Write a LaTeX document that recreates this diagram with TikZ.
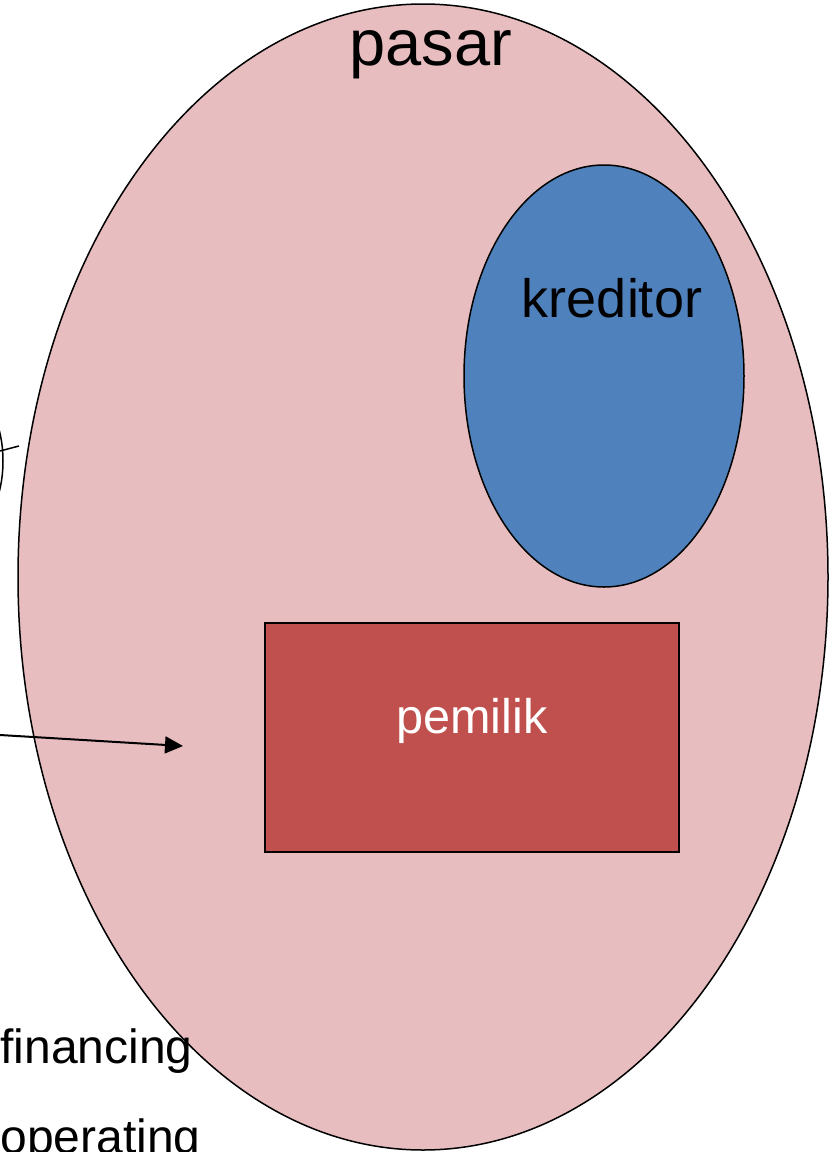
\documentclass[tikz,border=0pt]{standalone}
\usepackage{fontspec}
\setmainfont{Liberation Sans}
\usetikzlibrary{shapes.geometric,arrows.meta}
\definecolor{pasarpink}{RGB}{231,189,191}
\definecolor{kreditorblue}{RGB}{79,129,189}
\definecolor{pemilikred}{RGB}{192,80,77}
\tikzset{
  lbl/.style={anchor=base, inner sep=0pt},
  oval/.style={ellipse, draw=black, line width=0.75pt, inner sep=0pt}
}
\begin{document}
\begin{tikzpicture}[x=0.5pt, y=-0.5pt]
       \useasboundingbox (0,0) rectangle (840,1152);
       \clip (0,0) rectangle (840,1152);

       \draw (423,577) node[oval, fill=pasarpink, minimum width=405pt, minimum height=573pt](pasar){}
       (604,376) node[oval, fill=kreditorblue, minimum width=140pt, minimum height=211pt](kreditor){}
       (472,737.5) node[rectangle, draw=black, line width=1pt, fill=pemilikred, minimum width=207pt, minimum height=114.5pt](pemilik){}
       (-32,461) node[oval, minimum width=35pt, minimum height=68pt](kiri){};

       \node[lbl, font=\fontsize{32.5}{38}\selectfont] (tpasar) at (431,65) {pasar};
       \node[lbl, font=\fontsize{27}{32}\selectfont] (tkreditor) at (612,317) {kreditor};
       \node[lbl, font=\fontsize{24.3}{29}\selectfont, text=white] (tpemilik) at (472,733) {pemilik};
       \node[lbl, anchor=base west, font=\fontsize{24}{29}\selectfont] (tfinancing) at (0,1063) {financing};
       \node[lbl, anchor=base west, font=\fontsize{24}{29}\selectfont] (toperating) at (0,1153) {operating};

       \coordinate (kiri1) at (0,451);
       \coordinate (tepi1) at (19,446);
       \coordinate (panah0) at (0,735);
       \coordinate (panah1) at (183,746);

       \draw[line width=0.75pt] (kiri1) -- (tepi1);
       \draw[line width=1pt, -{Triangle[length=9pt, width=8.5pt]}] (panah0) -- (panah1);
    \end{tikzpicture}
\end{document}
